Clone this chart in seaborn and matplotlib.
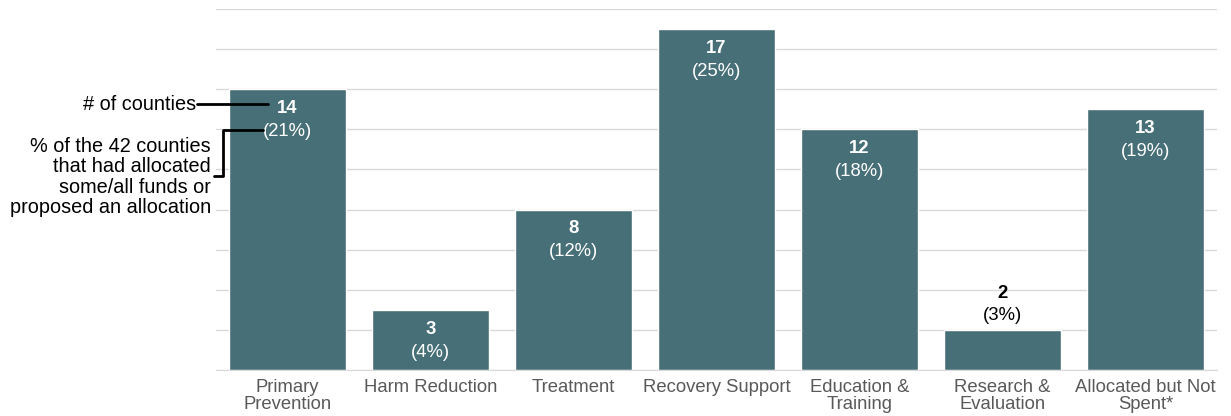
import numpy as np
import pandas as pd
import matplotlib.pyplot as plt
import seaborn as sns
from matplotlib.lines import Line2D

sns.set_style("white")
plt.rcParams['font.family'] = ['Liberation Sans', 'DejaVu Sans']

categories = ["Primary\nPrevention", "Harm Reduction", "Treatment", "Recovery Support",
              "Education &\nTraining", "Research &\nEvaluation", "Allocated but Not\nSpent*"]
counts = [14, 3, 8, 17, 12, 2, 13]
pcts = [21, 4, 12, 25, 18, 3, 19]

df = pd.DataFrame({"cat": categories, "n": counts, "pct": pcts})
W, H = 1231, 416
fs = 13.3

fig = plt.figure(figsize=(12.31, 4.16), dpi=100)
ax = fig.add_axes([216 / W, 1 - 370 / H, 1001 / W, 361 / H])
bar_color = "#476f77"
sns.barplot(data=df, x="cat", y="n", color=bar_color, width=0.82, saturation=1, ax=ax)

ax.set_ylim(0, 18)
ax.set_xlim(-0.5, 6.5)
ax.set_yticks(np.arange(0, 19, 2))
ax.yaxis.grid(True, color="#d9d9d9", lw=1)
ax.set_axisbelow(True)
ax.tick_params(axis="y", left=False, labelleft=False)
ax.tick_params(axis="x", bottom=False, labelsize=fs, labelcolor="#595959", pad=3)
for lab in ax.get_xticklabels():
    lab.set_linespacing(1.0)
for s in ["top", "right", "left"]:
    ax.spines[s].set_visible(False)
ax.spines["bottom"].set_color("#d9d9d9")
ax.set_xlabel("")
ax.set_ylabel("")

for i, (n, p) in enumerate(zip(counts, pcts)):
    if n >= 3:
        ax.annotate(str(n), (i, n), xytext=(0, -14), textcoords="offset points",
                    ha="center", va="center", color="white", fontsize=fs, fontweight="bold")
        ax.annotate(f"({p}%)", (i, n), xytext=(0, -30.5), textcoords="offset points",
                    ha="center", va="center", color="white", fontsize=fs)
    else:
        ax.annotate(str(n), (i, n), xytext=(0, 26), textcoords="offset points",
                    ha="center", va="center", color="black", fontsize=fs, fontweight="bold")
        ax.annotate(f"({p}%)", (i, n), xytext=(0, 10), textcoords="offset points",
                    ha="center", va="center", color="black", fontsize=fs)

# side annotations (pixel positions converted to figure fractions)
def fx(x):
    return x / W

def fy(y):
    return 1 - y / H

fig.text(fx(196), fy(105), "# of counties", ha="right", va="center",
         fontsize=14.3, color="black")
fig.add_artist(Line2D([fx(197), fx(268)], [fy(104), fy(104)], color="black", lw=2))
fig.text(fx(211), fy(177), "% of the 42 counties\nthat had allocated\nsome/all funds or\nproposed an allocation",
         ha="right", va="center", fontsize=14.3, linespacing=1.1, color="black")
fig.add_artist(Line2D([fx(214), fx(223), fx(223), fx(263)],
                      [fy(176), fy(176), fy(130), fy(130)], color="black", lw=2))

fig.savefig("out.png", dpi=100)
